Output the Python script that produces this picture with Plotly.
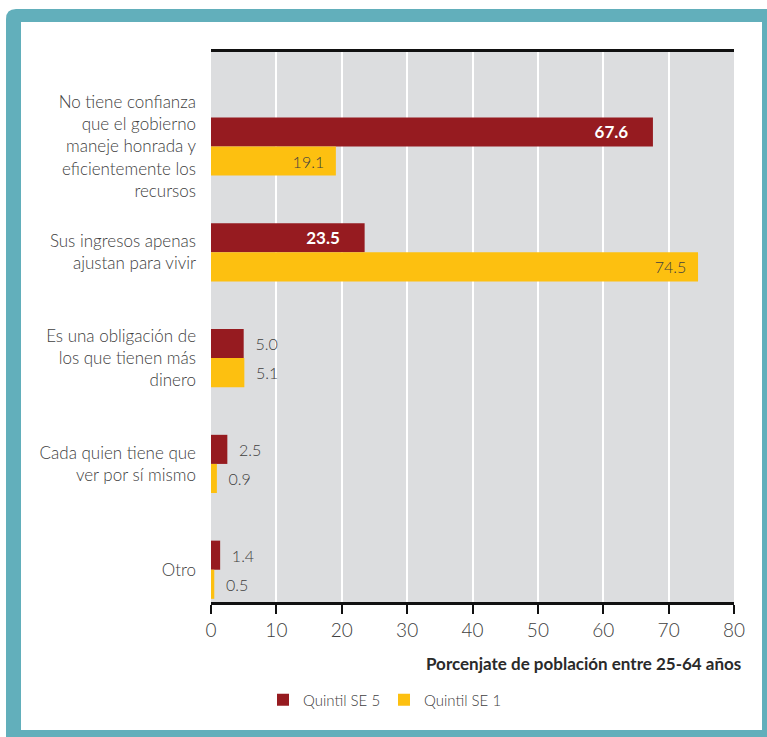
import plotly.graph_objects as go

categories = [
    "No tiene confianza<br>que el gobierno<br>maneje honrada y<br>eficientemente los<br>recursos",
    "Sus ingresos apenas<br>ajustan para vivir",
    "Es una obligación de<br>los que tienen más<br>dinero",
    "Cada quien tiene que<br>ver por sí mismo",
    "Otro",
]
quintil5 = [67.6, 23.5, 5.0, 2.5, 1.4]
quintil1 = [19.1, 74.5, 5.1, 0.9, 0.5]
series_names = ["Quintil SE 5", "Quintil SE 1"]
x_ticks = [0, 10, 20, 30, 40, 50, 60, 70, 80]
x_title = "Porcenjate de población entre 25-64 años"

RED = "#961b20"
YEL = "#fdc010"
TEAL = "#62afbb"
TXT = "#404040"
FONT = "Lato, 'Open Sans', sans-serif"
NB = "\u00a0"

W, H = 767, 737
L, R, T, B = 211, 33, 52, 135
PW, PH = W - L - R, H - T - B


def px_x(p):
    return (p - L) / PW


def px_y(p):
    return (H - B - p) / PH


def labels(vals, bold_inside):
    texts, pos = [], []
    for v in vals:
        inside = v > 15
        s = f"{v:.1f}"
        if inside and bold_inside:
            s = f"<b>{s}</b>" + NB * 5
        elif inside:
            s = s + NB * 2
        else:
            s = NB * 2 + s
        texts.append(s)
        pos.append("inside" if inside else "outside")
    return texts, pos


fig = go.Figure()
t5, p5 = labels(quintil5, True)
t1, p1 = labels(quintil1, False)
fig.add_trace(go.Bar(
    y=categories, x=quintil5, name=series_names[0], orientation="h",
    marker=dict(color=RED, line=dict(width=0)),
    text=t5, textposition=p5, insidetextanchor="end",
    insidetextfont=dict(color="white", size=17, family=FONT),
    outsidetextfont=dict(color=TXT, size=16, family=FONT, weight=300),
    cliponaxis=False,
))
fig.add_trace(go.Bar(
    y=categories, x=quintil1, name=series_names[1], orientation="h",
    marker=dict(color=YEL, line=dict(width=0)),
    text=t1, textposition=p1, insidetextanchor="end",
    insidetextfont=dict(color=TXT, size=16, family=FONT, weight=300),
    outsidetextfont=dict(color=TXT, size=16, family=FONT, weight=300),
    cliponaxis=False,
))

# frame: teal rounded border with white inner panel
r = 10
x0, y0, x1, y1 = px_x(6), px_y(9), px_x(790), px_y(760)
ry = r / PH
rx = r / PW
frame_path = (f"M {x0},{y1} L {x0},{y0 - ry} Q {x0},{y0} {x0 + rx},{y0} "
              f"L {x1},{y0} L {x1},{y1} Z")
shapes = [
    dict(type="path", path=frame_path, xref="paper", yref="paper",
         fillcolor=TEAL, line=dict(width=0), layer="below"),
    dict(type="rect", xref="paper", yref="paper",
         x0=px_x(21), x1=px_x(762), y0=px_y(730), y1=px_y(22),
         fillcolor="white", line=dict(width=0), layer="below"),
    dict(type="rect", xref="paper", yref="paper",
         x0=0, x1=1, y0=0, y1=1,
         fillcolor="#dcdddf", line=dict(width=0), layer="below"),
]

fig.update_layout(
    width=W, height=H,
    margin=dict(l=L, r=R, t=T, b=B, pad=0),
    paper_bgcolor="white",
    plot_bgcolor="rgba(0,0,0,0)",
    barmode="group",
    bargap=0.45,
    bargroupgap=0,
    font=dict(family=FONT, color=TXT, size=16),
    shapes=shapes,
    showlegend=True,
    legend=dict(orientation="h", x=px_x(263), y=px_y(700), xanchor="left",
                yanchor="middle", font=dict(size=15, color=TXT, family=FONT, weight=300),
                traceorder="normal", itemwidth=30, entrywidth=76,
                entrywidthmode="pixels", bgcolor="rgba(0,0,0,0)"),
    annotations=[dict(text=f"<b>{x_title}</b>", xref="paper", yref="paper",
                      x=px_x(743), y=px_y(663), xanchor="right", yanchor="middle",
                      showarrow=False, font=dict(size=17, color="#2a2a2a", family=FONT))],
)
fig.update_xaxes(
    range=[0, 80], tickvals=x_ticks, ticktext=[str(v) for v in x_ticks],
    showgrid=True, gridcolor="white", gridwidth=2,
    showline=True, linecolor="#111", linewidth=3, mirror=True,
    ticks="outside", ticklen=9, tickwidth=1.5, tickcolor="#111",
    tickfont=dict(size=19, color=TXT, family=FONT, weight=300),
    zeroline=False, fixedrange=True,
)
fig.update_yaxes(
    type="category", categoryorder="array", categoryarray=categories,
    range=[4.305, -0.893], showgrid=False, showline=False, ticks="",
    tickfont=dict(size=17, color=TXT, family=FONT, weight=300),
    ticklabelstandoff=14, fixedrange=True,
)

fig.write_html("out.html", config={"displayModeBar": False},
               post_script="document.body.style.margin='0';document.body.style.overflow='hidden';")
